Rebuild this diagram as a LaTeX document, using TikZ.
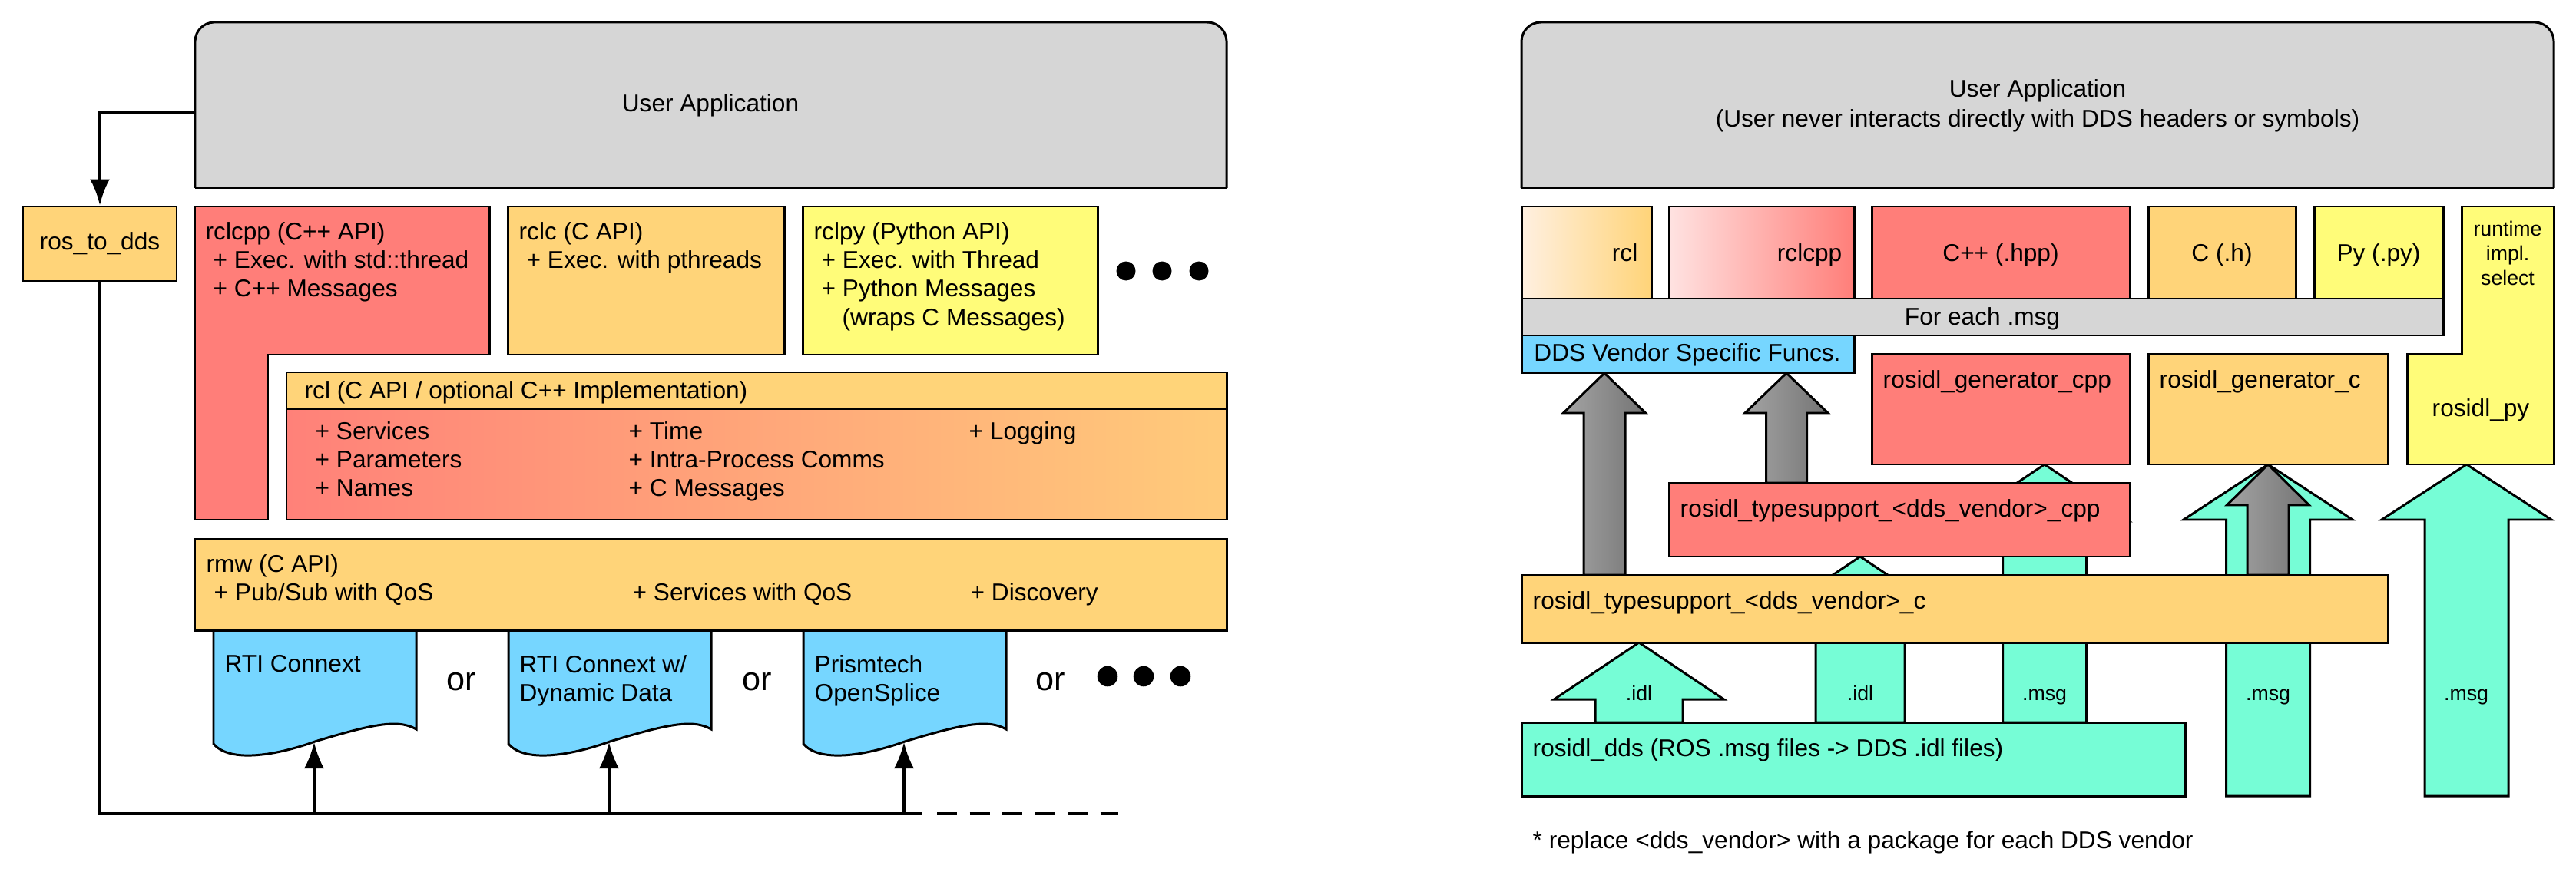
\documentclass[tikz,border=0pt]{standalone}
\usepackage{fontspec}
\setmainfont{Liberation Sans}
\usetikzlibrary{arrows.meta}

\definecolor{cgray}{HTML}{D6D6D6}
\definecolor{cred}{HTML}{FF7E79}
\definecolor{corange}{HTML}{FFD479}
\definecolor{cyellow}{HTML}{FFFC79}
\definecolor{cblue}{HTML}{76D6FF}
\definecolor{cteal}{HTML}{76FDD6}
\definecolor{rclL}{HTML}{FF8179}
\definecolor{rclR}{HTML}{FFCB7A}
\definecolor{garrowL}{HTML}{A4A4A4}
\definecolor{garrowR}{HTML}{747474}

% document shape with wavy bottom: #1 left x, #2 name, #3 text
\newcommand{\ddsdoc}[3]{%
  \begin{scope}[shift={(#1,0)}]
    \draw[box, fill=cblue] (0,8.21) -- (2.64,8.21) -- (2.64,9.50)
      .. controls (2.40,9.36) and (2.05,9.44) .. (1.32,9.66)
      .. controls (0.85,9.83) and (0.22,9.95) .. (0,9.69) -- cycle;
    \coordinate (#2) at (1.31,9.67);
    \node[txt, anchor=north west] (#2txt) at (0.14,8.53) {#3};
  \end{scope}}

% block arrow pointing up: #1 style, #2 x, #3 tip y, #4 head base y,
% #5 head half width, #6 shaft half width, #7 bottom y
\newcommand{\blockup}[7]{%
  \draw[#1] (#2,#3) -- ({#2+#5},#4) -- ({#2+#6},#4) -- ({#2+#6},#7)
    -- ({#2-#6},#7) -- ({#2-#6},#4) -- ({#2-#5},#4) -- cycle;}

\begin{document}
\begin{tikzpicture}[yscale=-1, font=\fontsize{9}{10.6}\selectfont,
    box/.style = {draw, line width=0.85pt},
    txt/.style = {inner sep=0pt, anchor=base west, align=left},
    small/.style = {inner sep=0pt, anchor=base, align=center, font=\fontsize{7.6}{9.2}\selectfont},
    orlbl/.style = {font=\fontsize{12.3}{14}\selectfont},
    wire/.style = {line width=1.3pt},
    tip/.style = {-{Latex[length=0.34cm,width=0.26cm]}},
    tarrow/.style = {box, fill=cteal},
    garrow/.style = {box, left color=garrowL, right color=garrowR}]
\useasboundingbox (0,0) rectangle (33.54,11.49);

% ---- left: client library stack ----
\begin{scope}
  \clip (2.3,0) rectangle (16.2,2.45);
  \draw[box, fill=cgray, rounded corners=0.25cm] (2.54,0.29) rectangle (15.97,2.9);
\end{scope}
\draw[box] (2.54,2.45) -- (15.97,2.45);
\node (appL) at (9.25,1.37) {User Application};
\coordinate (appLout) at (2.54,1.46);

\node[box, fill=corange, minimum width=2cm, minimum height=0.97cm] (ros2dds) at (1.30,3.175) {ros\_to\_dds};

% (multi-line texts sit on their last baseline)
\draw[box, fill=cred] (2.54,2.69) -- (6.37,2.69) -- (6.37,4.62) -- (3.49,4.62) -- (3.49,6.77) -- (2.54,6.77) -- cycle;
\node[txt] (rclcpp) at (2.67,3.868) {rclcpp (C++ API)\\\hspace*{0.1cm}+ Exec. with std::thread\\\hspace*{0.1cm}+ C++ Messages};
\draw[box, fill=corange] (6.61,2.69) rectangle (10.21,4.62);
\node[txt] (rclc) at (6.75,3.494) {rclc (C API)\\\hspace*{0.1cm}+ Exec. with pthreads};
\draw[box, fill=cyellow] (10.45,2.69) rectangle (14.29,4.62);
\node[txt] (rclpy) at (10.59,4.242) {rclpy (Python API)\\\hspace*{0.1cm}+ Exec. with Thread\\\hspace*{0.1cm}+ Python Messages\\\hspace*{0.37cm}(wraps C Messages)};
\foreach \x in {14.66,15.13,15.61}
  \fill (\x,3.53) circle (0.125);

\draw[box, fill=corange] (3.73,4.85) rectangle (15.97,5.33);
\draw[box, left color=rclL, right color=rclR] (3.73,5.33) rectangle (15.97,6.77);
\node[txt] (rcl) at (3.96,5.19) {rcl (C API / optional C++ Implementation)};
\node[txt] (rclA) at (4.10,6.468) {+ Services\\+ Parameters\\+ Names};
\node[txt] (rclB) at (8.18,6.468) {+ Time\\+ Intra-Process Comms\\+ C Messages};
\node[txt] (rclC) at (12.61,5.72) {+ Logging};

\ddsdoc{2.78}{docA}{RTI Connext}
\ddsdoc{6.62}{docB}{RTI Connext w/\\Dynamic Data}
\ddsdoc{10.46}{docC}{Prismtech\\OpenSplice}

\draw[box, fill=corange] (2.54,7.02) rectangle (15.97,8.21);
\node[txt] (rmw) at (2.68,7.824) {rmw (C API)\\\hspace*{0.1cm}+ Pub/Sub with QoS};
\node[txt] (rmwB) at (8.23,7.824) {+ Services with QoS};
\node[txt] (rmwC) at (12.63,7.824) {+ Discovery};

\node[orlbl] (orA) at (6.01,8.88) {or};
\node[orlbl] (orB) at (9.86,8.88) {or};
\node[orlbl] (orC) at (13.68,8.88) {or};
\foreach \x in {14.42,14.89,15.37}
  \fill (\x,8.81) circle (0.133);

\coordinate (bus) at (0,10.60);
\draw[wire, tip] (appLout) -| (ros2dds.north);
\draw[wire] (ros2dds.south) |- (12.00,10.60);
\draw[wire, dash pattern=on 0.26cm off 0.165cm] (12.20,10.60) -- (14.56,10.60);
\foreach \d in {docA,docB,docC}
  \draw[line width=1pt, tip] (\d |- bus) -- (\d);

% ---- right: generated message code ----
\begin{scope}
  \clip (19.6,0) rectangle (33.5,2.45);
  \draw[box, fill=cgray, rounded corners=0.25cm] (19.81,0.29) rectangle (33.25,2.9);
\end{scope}
\draw[box] (19.81,2.45) -- (33.25,2.45);
\node[align=center, font=\fontsize{9}{11}\selectfont] (appR) at (26.53,1.375) {User Application\\(User never interacts directly with DDS headers or symbols)};

\blockup{tarrow}{24.22}{7.25}{7.99}{1.10}{0.58}{9.41}
\blockup{tarrow}{26.62}{6.05}{6.79}{1.10}{0.545}{9.41}
\blockup{tarrow}{29.53}{6.05}{6.77}{1.10}{0.545}{10.37}
\blockup{tarrow}{32.115}{6.05}{6.77}{1.105}{0.545}{10.37}
\blockup{tarrow}{21.34}{8.37}{9.11}{1.105}{0.57}{9.41}
\blockup{garrow}{20.89}{4.86}{5.38}{0.535}{0.27}{7.49}
\blockup{garrow}{23.26}{4.86}{5.38}{0.54}{0.265}{6.29}
\blockup{garrow}{29.53}{6.05}{6.58}{0.535}{0.27}{7.49}

\draw[box, fill=corange] (19.81,7.49) rectangle (31.09,8.37);
\node[txt] (tsc) at (19.95,7.93) {rosidl\_typesupport\_<dds\_vendor>\_c};
\draw[box, fill=cred] (21.73,6.29) rectangle (27.73,7.25);
\node[txt] (tscpp) at (21.87,6.73) {rosidl\_typesupport\_<dds\_vendor>\_cpp};
\draw[box, fill=cred] (24.37,4.61) rectangle (27.73,6.05);
\node[txt] (gencpp) at (24.51,5.05) {rosidl\_generator\_cpp};
\draw[box, fill=corange] (27.97,4.61) rectangle (31.09,6.05);
\node[txt] (genc) at (28.11,5.05) {rosidl\_generator\_c};
\draw[box, fill=cteal] (19.81,9.41) rectangle (28.45,10.37);
\node[txt] (rosdds) at (19.95,9.85) {rosidl\_dds (ROS .msg files -> DDS .idl files)};

\node[small] (idlA) at (21.34,9.12) {.idl};
\node[small] (idlB) at (24.22,9.12) {.idl};
\node[small] (msgA) at (26.62,9.12) {.msg};
\node[small] (msgB) at (29.53,9.12) {.msg};
\node[small] (msgC) at (32.11,9.12) {.msg};

\draw[box, left color=orange!12, right color=corange] (19.81,2.69) rectangle (21.50,3.89);
\node[inner sep=0pt, anchor=base east] (rclR) at (21.33,3.40) {rcl};
\draw[box, left color=cred!22, right color=cred] (21.73,2.69) rectangle (24.14,3.89);
\node[inner sep=0pt, anchor=base east] (rclcppR) at (23.99,3.40) {rclcpp};
\draw[box, fill=cred] (24.37,2.69) rectangle (27.73,3.89);
\node[inner sep=0pt, anchor=base] (hpp) at (26.05,3.40) {C++ (.hpp)};
\draw[box, fill=corange] (27.97,2.69) rectangle (29.89,3.89);
\node[inner sep=0pt, anchor=base] (hdr) at (28.93,3.40) {C (.h)};
\draw[box, fill=cyellow] (30.13,2.69) rectangle (31.81,3.89);
\node[inner sep=0pt, anchor=base] (py) at (30.97,3.40) {Py (.py)};
\draw[box, fill=cyellow] (32.05,2.69) -- (33.25,2.69) -- (33.25,6.05) -- (31.34,6.05) -- (31.34,4.61) -- (32.05,4.61) -- cycle;
\node[small] (select) at (32.65,3.717) {runtime\\impl.\\select};
\node[inner sep=0pt, anchor=base] (rosidlpy) at (32.30,5.42) {rosidl\_py};

\draw[box, fill=cgray] (19.81,3.89) rectangle (31.81,4.37);
\node[inner sep=0pt, anchor=base] (foreach) at (25.81,4.23) {For each .msg};
\draw[box, fill=cblue] (19.81,4.37) rectangle (24.14,4.86);
\node[inner sep=0pt, anchor=base] (vendor) at (21.97,4.70) {DDS Vendor Specific Funcs.};

\node[txt] (note) at (19.95,11.05) {* replace <dds\_vendor> with a package for each DDS vendor};
\end{tikzpicture}
\end{document}
